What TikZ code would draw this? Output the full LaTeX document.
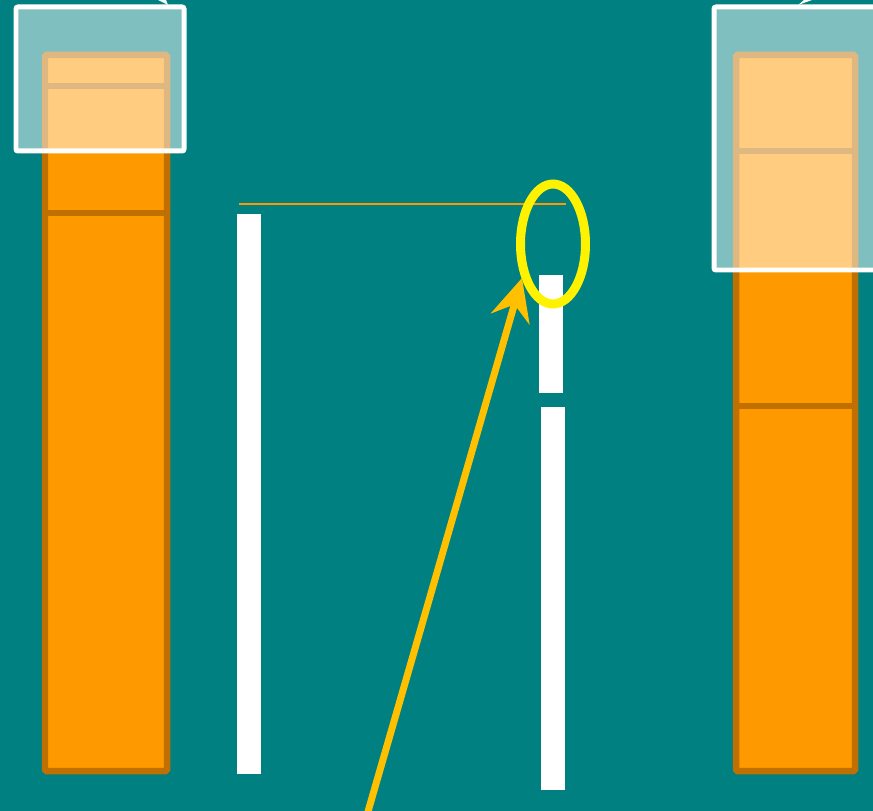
\documentclass[tikz,border=0pt]{standalone}
\usepackage{tikz}
\usetikzlibrary{arrows.meta, shapes.geometric}

\definecolor{bgteal}{HTML}{008080}
\definecolor{barorange}{HTML}{FF9900}
\definecolor{bardark}{HTML}{C07000}
\definecolor{arroworange}{HTML}{FFC000}

\tikzset{
  bar/.style={fill=barorange, draw=bardark, line width=0.13cm, rounded corners=0.03cm},
  divider/.style={draw=bardark, line width=0.12cm},
  strip/.style={fill=white, draw=none},
  lens/.style={fill=white, fill opacity=0.5, draw=white, draw opacity=1, line width=0.1cm, rounded corners=0.04cm}
}

\begin{document}
\begin{tikzpicture}[x=0.02cm, y=-0.02cm, >=Stealth]
            % Background
            \fill[bgteal] (0,0) rectangle (873,811);
            \useasboundingbox (0,0) rectangle (873,811);
            \clip (0,0) rectangle (873,811);

            % Left column
            \draw[bar] (45,55) rectangle (167,771);
            \draw[divider] (45,86) -- (167,86);
            \draw[divider] (45,213) -- (167,213);

            % Right column
            \draw[bar] (736,55) rectangle (855,771);
            \draw[divider] (736,151) -- (855,151);
            \draw[divider] (736,406) -- (855,406);

            % White strips
            \fill[strip] (237,214) rectangle (261,774);
            \fill[strip] (539,275) rectangle (563,393);
            \fill[strip] (541,407) rectangle (565,790);

            % Thin level line
            \draw[barorange, line width=0.045cm] (239,204) -- (566,204);

            % Magnified windows
            \draw[lens] (16,7) rectangle (184,151);
            \fill[white] (158,0) -- (166,0) -- (168,5) -- cycle;
            \draw[lens] (714,7) rectangle (890,270);
            \fill[white] (798,5) -- (804,0) -- (812,0) -- cycle;

            % Highlight and pointer
            \node[ellipse, draw=yellow, line width=0.18cm, minimum width=1.3cm,
                  minimum height=2.4cm, inner sep=0pt] (mark) at (553,244) {};
            \coordinate (tail) at (367,815);
            \coordinate (tip) at (522,278);
            \draw[->, arroworange, line width=0.14cm,
                  -{Stealth[length=0.85cm, width=0.8cm, inset=0.3cm]}] (tail) -- (tip);
\end{tikzpicture}
\end{document}
